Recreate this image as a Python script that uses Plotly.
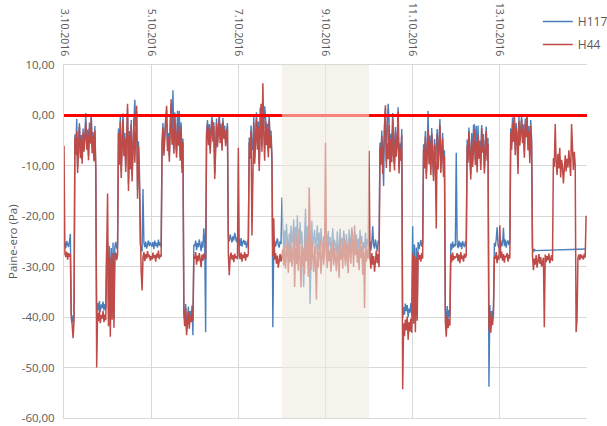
import pandas as pd
import plotly.graph_objects as go

# Paine-ero readings every 30 min, 48 values per day (3.10.2016 - 14.10.2016)
N = None

h117_03 = [-25.8, -25.2, -26.3, -24.9, -25.6, -26.1, -25.0, -23.5, -39.5, -39.8, -41.2, -40.0,
           -3.8, -6.9, -0.7, -10.2, -5.0, -1.5, -7.6, -3.9, -8.8, -2.6, -6.3, -4.1,
           0.5, -5.9, -2.8, -8.0, -1.4, -4.7, 0.3, -6.6, -3.3, -8.2, -2.1, -10.3,
           -40.1, -37.2, -38.6, -36.8, -38.9, -37.5, -38.2, -36.9, -38.7, -37.4, -38.4, -25.6]
h44_03 = [-6.0, -27.4, -28.1, -27.0, -28.6, -27.3, -28.0, -27.5, -40.2, -41.5, -44.2, -40.8,
          -4.5, -7.8, -3.2, -11.4, -6.1, -2.0, -8.5, -4.8, -9.6, -3.5, -7.2, -5.0,
          -1.2, -6.8, -3.9, -8.9, -2.5, -5.6, -0.4, -7.5, -4.2, -9.1, -3.0, -11.0,
          -50.0, -39.2, -40.8, -38.5, -41.2, -39.6, -40.3, -38.8, -41.0, -39.5, -40.6, -27.4]

h117_04 = [-25.4, -39.6, -25.9, -41.5, -26.3, -38.7, -25.2, -40.2, -26.0, -25.1, -26.4, -25.5,
           -2.6, -8.5, -0.3, -11.0, -4.7, 0.4, -7.0, -3.5, -10.1, -1.8, 1.2, -13.6,
           -3.1, -9.5, -0.9, -12.0, -4.3, -1.2, 3.1, -2.2, 0.8, -14.8, -5.1, -10.6,
           -25.6, -26.2, -27.0, -14.6, -25.3, -26.1, -25.0, -26.4, -25.5, -24.8, -25.9, -25.2]
h44_04 = [-15.5, -41.8, -27.6, -43.9, -28.2, -40.5, -27.3, -42.1, -28.0, -27.2, -28.7, -27.6,
          -3.5, -9.8, -1.2, -12.4, -5.6, -0.8, -8.1, -4.6, -11.2, -2.9, 2.3, -15.0,
          -4.0, -10.7, -1.8, -13.1, -5.2, -0.5, -9.4, -3.1, 1.9, -16.5, -6.0, -11.8,
          -27.8, -31.0, -34.7, -28.2, -27.1, -28.9, -27.5, -28.4, -26.9, -28.1, -27.6, -28.8]

h117_05 = [-25.7, -26.0, -25.1, -26.5, -24.8, -25.9, -25.3, -26.2, -24.6, -25.8, -25.2, -26.1,
           -5.1, -1.5, -7.0, -2.9, -0.4, 1.1, -6.2, -3.5, -8.1, -1.2, 2.1, -4.8,
           5.0, -6.8, 0.6, -4.0, -7.5, 0.9, -5.1, 0.9, -8.3, -1.4, -10.5, -4.6,
           -38.5, -40.7, -37.4, -42.5, -39.2, -37.9, -41.4, -38.8, -40.1, -37.7, -43.6, -25.6]
h44_05 = [-27.9, -28.6, -27.2, -28.3, -27.7, -29.0, -27.4, -28.2, -26.8, -28.5, -27.6, -28.0,
          -6.2, -2.4, -8.0, -3.6, -1.0, 1.9, -7.1, -4.3, -9.2, -2.0, 3.2, -5.8,
          -2.7, -7.6, -0.2, -4.9, -8.4, -1.6, -6.0, -3.1, -9.0, -2.2, -11.4, -5.3,
          -39.4, -41.8, -38.2, -43.6, -40.1, -38.9, -42.3, -39.7, -41.0, -38.6, -40.8, -27.9]

h117_06 = [-25.9, -24.8, -26.7, -25.3, -26.1, -24.6, -25.7, -26.9, -25.0, -26.2, -22.4, -25.4,
           -43.0, -3.2, -0.9, -5.0, -1.7, -6.8, -2.4, 0.0, -4.3, -1.3, -11.5, -3.6,
           -0.6, -5.4, -2.2, 0.2, -4.7, -1.6, -6.2, -0.5, -3.8, -2.0, -5.3, -2.7,
           -1.5, -24.1, -25.0, -23.6, -24.5, -25.2, -24.0, -24.8, -23.3, -24.6, -25.1, -24.2]
h44_06 = [-28.4, -27.1, -29.6, -27.8, -28.9, -27.3, -28.5, -30.1, -27.6, -28.8, -27.4, -28.2,
          -28.3, -4.1, -1.8, -5.9, -2.6, -7.6, -3.3, -0.9, -5.2, -2.1, -12.6, -4.4,
          -1.5, -6.3, -3.0, -0.4, -5.5, -2.4, -7.0, -1.2, -4.6, -2.8, -6.1, -3.4,
          -2.2, -27.5, -31.7, -28.0, -27.2, -28.6, -27.7, -29.1, -27.4, -28.3, -27.9, -28.5]

h117_07 = [-25.2, -24.6, -25.9, -24.3, -26.0, -25.1, -24.7, -25.6, -24.9, -26.3, -25.0, -24.5,
           -4.4, -7.5, -2.0, -6.2, -6.9, -0.3, -8.4, -3.1, 0.6, -5.7, -1.2, -9.8,
           1.5, 0.9, -6.1, 2.3, -2.5, 1.8, -0.2, -4.8, -1.6, -7.2, 0.1, -5.4,
           -3.0, -8.0, -42.0, -25.3, -24.8, -26.0, -25.1, -24.4, -25.7, -26.2, -24.9, -25.5]
h44_07 = [-6.4, -27.8, -28.5, -27.2, -29.0, -27.6, -28.3, -27.1, -28.8, -27.5, -28.1, -27.4,
          -5.3, -8.6, -3.1, -23.8, -7.9, -1.4, -9.6, -4.2, -0.6, -6.8, -2.3, -11.0,
          -4.8, 2.3, -7.2, 6.4, -3.6, -9.0, -1.1, -5.9, -2.7, -8.3, -0.8, -6.5,
          -4.0, -9.1, -27.9, -20.4, -28.6, -27.3, -29.4, -27.8, -30.2, -28.1, -27.5, -29.0]

h117_08 = [-16.3, -24.1, -27.0, -22.8, -26.4, -21.5, -25.6, -28.0, -23.4, -26.9, -21.9, -25.3,
           -24.2, -20.6, -27.3, -22.1, -26.0, -19.8, -24.9, -28.4, -21.2, -25.5, -23.0, -27.1,
           -34.0, -23.7, -18.5, -26.8, -22.0, -25.9, -21.4, -37.4, -24.5, -20.9, -26.3, -23.6,
           -22.7, -27.5, -24.0, -21.8, -26.6, -23.2, -28.1, -22.4, -25.0, -27.7, -23.9, -26.1]
h44_08 = [-28.3, -26.5, -29.8, -25.9, -30.4, -27.1, -24.8, -31.2, -26.6, -29.1, -25.4, -30.0,
          -27.6, -23.1, -34.0, -26.2, -29.5, -24.3, -30.8, -22.5, -28.0, -34.1, -25.7, -29.9,
          -26.4, -31.5, -23.8, -28.9, -25.1, -32.0, -14.3, -27.3, -30.6, -24.9, -28.4, -31.1,
          -26.0, -29.3, -36.5, -25.5, -30.2, -27.0, -24.6, -31.4, -27.8, -25.2, -29.6, -26.9]

h117_09 = [-25.6, -23.4, -27.1, -22.9, -25.8, -24.1, -28.0, -23.7, -22.4, -26.5, -24.6, -25.9,
           -27.4, -23.0, -25.2, -28.6, -22.5, -26.0, -24.3, -27.9, -22.8, -25.1, -26.8, -23.5,
           -25.7, -28.3, -22.6, -24.9, -26.7, -22.2, -25.0, -27.5, -23.1, -25.8, -23.6, -26.9,
           -24.4, -27.8, -22.7, -25.5, -23.9, -28.2, -25.1, -26.3, -23.2, -26.6, -24.5, -25.7]
h44_09 = [-5.4, -27.4, -30.3, -25.6, -28.9, -26.8, -31.0, -27.2, -24.9, -29.7, -26.3, -28.5,
          -30.9, -25.8, -27.9, -32.2, -24.7, -28.6, -26.1, -30.4, -23.5, -27.6, -29.8, -25.3,
          -28.2, -31.3, -24.4, -27.0, -29.4, -22.8, -26.5, -30.1, -21.8, -27.7, -25.0, -29.2,
          -26.7, -30.7, -24.2, -28.3, -25.9, -31.6, -27.1, -38.2, -25.4, -29.0, -26.6, -28.4]

h117_10 = [-26.0, -24.9, -26.8, -25.2, -22.0, -25.7, -26.4, -24.6, -25.5, -26.9, -24.8, -25.3,
           -5.4, -8.6, -3.0, -10.2, -14.0, -1.7, 1.4, -9.1, -4.4, 2.3, -0.8, -10.0,
           -3.6, -8.1, 0.5, -6.7, -9.6, -2.3, -7.0, -4.8, 1.6, -10.3, -5.5, -7.9,
           -2.7, -40.2, -38.0, -39.5, -37.3, -38.8, -37.6, -40.0, -38.3, -39.1, -37.2, -39.6]
h44_10 = [-7.0, -28.1, -30.4, -27.3, -29.6, -27.9, -31.0, -28.2, -26.8, -29.3, -27.5, -30.1,
          -6.3, -9.8, -4.1, -11.6, -7.2, -2.8, 2.0, -10.4, -5.5, -8.7, -1.9, -11.2,
          -4.7, -9.3, -0.6, -7.8, -10.9, -3.4, -8.2, -5.9, 0.8, -11.5, -6.6, -9.0,
          -3.8, -54.3, -41.2, -43.8, -40.5, -42.6, -39.9, -44.5, -41.0, -42.9, -40.3, -43.1]

h117_11 = [-22.0, -38.9, -25.6, -40.8, -26.2, -38.4, -25.1, -26.5, -25.4, -24.7, -26.0, -25.3,
           -5.7, -9.3, -3.1, -11.5, -6.8, 0.9, -8.6, -4.0, -10.7, -2.5, -7.3, -12.1,
           -4.7, -8.8, -6.2, -2.7, -9.6, -5.4, -0.7, -10.3, -6.2, -3.5, -11.1, -6.9,
           -38.7, -41.5, -37.8, -40.3, -38.6, -39.8, -25.4, -26.6, -25.0, -26.2, -25.7, -25.9]
h44_11 = [-27.4, -41.3, -27.9, -43.0, -28.3, -40.7, -27.1, -28.6, -27.7, -29.0, -27.3, -28.4,
          -6.8, -10.5, -4.2, -12.6, -7.9, -2.9, -9.7, -5.1, -11.8, -3.6, -8.4, -13.0,
          -5.8, -9.9, -22.4, -3.8, -10.7, -6.5, -1.9, -11.4, -7.3, -4.6, -12.2, -8.0,
          -40.8, -43.9, -39.6, -42.2, -40.4, -41.7, -27.6, -29.1, -27.2, -28.7, -27.9, -28.3]

h117_12 = [-7.4, -25.6, -26.3, -24.8, -26.0, -25.2, -26.5, -24.9, -25.7, -26.1, -25.0, -25.8,
           -4.8, -8.2, -2.4, -7.0, -11.6, -3.5, -9.1, -2.0, -1.9, -8.7, -2.1, -10.2,
           -2.0, -7.5, -5.0, -9.7, -1.9, -6.3, -3.7, -10.4, -5.2, -2.2, -8.0, -4.5,
           -53.8, -37.6, -41.9, -38.8, -40.3, -37.9, -25.3, -26.0, -24.6, -22.2, -25.7, -26.3]
h44_12 = [-28.0, -27.3, -28.9, -27.6, -29.3, -27.1, -28.5, -27.8, -29.0, -27.4, -28.2, -27.7,
          -5.9, -9.4, -3.3, -8.1, -12.7, -4.6, -10.2, -6.7, -2.8, -9.8, -5.2, -11.3,
          -3.9, -8.6, -6.1, -10.8, -2.5, -7.4, -4.8, -11.5, -6.3, -3.1, -9.0, -5.6,
          -42.5, -38.9, -43.1, -40.2, -41.6, -39.3, -28.0, -28.4, -27.1, -29.3, -27.8, -28.6]

h117_13 = [-25.5, -24.7, -26.0, -25.3, -22.3, -25.9, -24.6, -26.2, -25.1, -24.8, -25.7, -25.2,
           -2.6, -5.9, -0.4, -4.3, 0.0, -6.8, -1.5, -3.6, -10.3, -0.2, -4.9, -2.7,
           0.0, -4.4, -1.8, -7.2, -0.6, -3.1, 0.2, -5.8, -2.1, -8.3, -0.9, -4.6,
           -26.3, -27.1, -26.5, -26.8, N, N, N, N, N, N, N, N]
h44_13 = [-21.8, -28.3, -27.0, -28.8, -27.5, -29.2, -27.8, -28.1, -27.3, -29.0, -27.6, -28.4,
          -3.4, -6.8, -1.5, -5.2, -0.3, -7.9, -2.6, -4.7, -11.6, -1.1, -6.0, -3.8,
          -0.8, -5.5, -2.9, -8.4, -1.6, -4.3, -0.2, -6.9, -3.2, -9.5, -2.0, -5.7,
          -27.9, -30.7, -28.4, -29.6, -27.7, -30.2, -28.8, -27.5, -29.4, -28.1, -30.0, -28.6]

# H117 logger has no readings after 13.10 evening, only one at the very end
h117_14 = [N] * 47 + [-26.5]
h44_14 = [-28.2, -42.0, -27.6, -29.1, -27.9, -28.7, -27.4, -29.3, -28.0, -27.7, -28.9, -8.5,
          -10.2, -1.7, -9.1, -11.8, -7.6, -10.5, -6.4, -12.3, -8.8, -10.0, -13.5, -9.4,
          -7.9, -11.1, -8.6, -10.3, -6.9, -9.7, -12.0, -1.7, -8.3, -10.8, -7.2, -9.9,
          -43.0, -40.6, -28.4, -27.6, -28.7, -27.5, -28.3, -27.8, -28.6, -27.4, -28.2, -19.9]

h117_days = [h117_03, h117_04, h117_05, h117_06, h117_07, h117_08,
             h117_09, h117_10, h117_11, h117_12, h117_13, h117_14]
h44_days = [h44_03, h44_04, h44_05, h44_06, h44_07, h44_08,
            h44_09, h44_10, h44_11, h44_12, h44_13, h44_14]
for d in h117_days + h44_days:
    assert len(d) == 48, len(d)

h117 = [v for d in h117_days for v in d]
h44 = [v for d in h44_days for v in d]
times = pd.date_range("2016-10-03", periods=len(h44), freq="30min")

weekend = ("2016-10-08", "2016-10-10")
target_level = 0
x_ticks = ["2016-10-03", "2016-10-05", "2016-10-07", "2016-10-09", "2016-10-11", "2016-10-13"]
x_text = ["3.10.2016", "5.10.2016", "7.10.2016", "9.10.2016", "11.10.2016", "13.10.2016"]
y_ticks = [10, 0, -10, -20, -30, -40, -50, -60]
y_text = ["10,00", "0,00", "-10,00", "-20,00", "-30,00", "-40,00", "-50,00", "-60,00"]

FONT = "Open Sans"
GREY = "#595959"
GRID = "#D9D9D9"

fig = go.Figure()
fig.add_scatter(x=times, y=h117, name="H117", mode="lines", connectgaps=True,
                legendgroup="a", line=dict(color="#4A7EBB", width=1.4))
fig.add_scatter(x=times, y=h44, name="H44", mode="lines",
                legendgroup="b", line=dict(color="#BE4B48", width=1.5))

# target level line, then the weekend band painted over everything
fig.add_shape(type="line", xref="paper", x0=0, x1=1, yref="y", y0=target_level, y1=target_level,
              line=dict(color="#FF0000", width=3), layer="above")
fig.add_shape(type="rect", xref="x", x0=weekend[0], x1=weekend[1], yref="paper", y0=0, y1=1,
              fillcolor="rgba(239,233,221,0.56)", line=dict(width=0), layer="above")

# y title as an annotation so it can sit close to the page edge
fig.add_annotation(text="Paine-ero (Pa)", textangle=-90, xref="paper", yref="paper",
                   x=-0.0985, y=0.5, xanchor="center", yanchor="middle", showarrow=False,
                   font=dict(size=11.5, color=GREY))

# figure is a bit wider than the window so the legend does not squeeze the plot;
# the extra strip on the right stays outside the visible page
fig.update_layout(
    width=640, height=426,
    margin=dict(l=64, r=53, t=64, b=8),
    paper_bgcolor="white", plot_bgcolor="white",
    font=dict(family=FONT, size=11.5, color=GREY),
    showlegend=True,
    legend=dict(x=0.906, y=1.161, xanchor="left", yanchor="top",
                font=dict(size=12, color=GREY), bgcolor="rgba(0,0,0,0)",
                tracegroupgap=4, traceorder="grouped"),
)
fig.update_xaxes(type="date", range=["2016-10-03", "2016-10-15"], side="top",
                 tickvals=x_ticks, ticktext=x_text, tickangle=90, automargin=False,
                 tickfont=dict(size=10.5),
                 showgrid=True, gridcolor=GRID, gridwidth=1,
                 showline=True, linecolor=GRID, linewidth=1, mirror=True,
                 ticks="", ticklabelstandoff=4)
fig.update_yaxes(range=[-60, 10], tickvals=y_ticks, ticktext=y_text, automargin=False,
                 showgrid=True, gridcolor=GRID, gridwidth=1, zeroline=False,
                 showline=True, linecolor=GRID, linewidth=1,
                 ticks="", ticklabelstandoff=6)

fig.write_html("out.html", config={"displayModeBar": False},
               post_script="document.body.style.margin='0';document.body.style.overflow='hidden';")
